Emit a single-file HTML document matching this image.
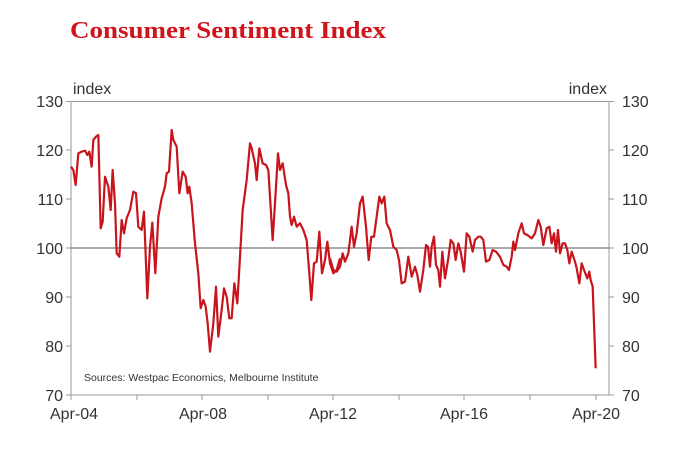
<!DOCTYPE html>
<html><head><meta charset="utf-8"><style>
html,body{margin:0;padding:0;background:#fff;}
svg{display:block;}
</style></head><body>
<svg width="674" height="450" viewBox="0 0 674 450" xmlns="http://www.w3.org/2000/svg">
<rect width="674" height="450" fill="#fff"/>
<text x="70" y="38" font-family="Liberation Serif, serif" font-weight="bold" font-size="24" fill="#d0141c" textLength="316" lengthAdjust="spacingAndGlyphs">Consumer Sentiment Index</text>
<g stroke="#999" stroke-width="1" fill="none">
<rect x="71" y="101.5" width="538" height="293.5"/>
</g>
<line x1="71" y1="248" x2="609" y2="248" stroke="#555" stroke-width="1"/>
<g stroke="#999" stroke-width="1">
<line x1="66" y1="101.5" x2="71" y2="101.5"/><line x1="66" y1="150" x2="71" y2="150"/><line x1="66" y1="199" x2="71" y2="199"/><line x1="66" y1="248" x2="71" y2="248"/><line x1="66" y1="297" x2="71" y2="297"/><line x1="66" y1="346" x2="71" y2="346"/><line x1="66" y1="395" x2="71" y2="395"/>
<line x1="609" y1="101.5" x2="614" y2="101.5"/><line x1="609" y1="150" x2="614" y2="150"/><line x1="609" y1="199" x2="614" y2="199"/><line x1="609" y1="248" x2="614" y2="248"/><line x1="609" y1="297" x2="614" y2="297"/><line x1="609" y1="346" x2="614" y2="346"/><line x1="609" y1="395" x2="614" y2="395"/>
<line x1="71" y1="395" x2="71" y2="400"/><line x1="137" y1="395" x2="137" y2="400"/><line x1="202" y1="395" x2="202" y2="400"/><line x1="268" y1="395" x2="268" y2="400"/><line x1="333" y1="395" x2="333" y2="400"/><line x1="399" y1="395" x2="399" y2="400"/><line x1="464" y1="395" x2="464" y2="400"/><line x1="530" y1="395" x2="530" y2="400"/><line x1="596" y1="395" x2="596" y2="400"/>
</g>
<g font-family="Liberation Sans, sans-serif" font-size="16" fill="#333">
<g text-anchor="end">
<text x="63" y="107">130</text><text x="63" y="156">120</text><text x="63" y="205">110</text><text x="63" y="254">100</text><text x="63" y="303">90</text><text x="63" y="352">80</text><text x="63" y="401">70</text>
<text x="607" y="94">index</text>
</g>
<text x="622" y="107">130</text><text x="622" y="156">120</text><text x="622" y="205">110</text><text x="622" y="254">100</text><text x="622" y="303">90</text><text x="622" y="352">80</text><text x="622" y="401">70</text>
<text x="73" y="94">index</text>
<g text-anchor="middle">
<text x="74" y="419">Apr-04</text><text x="203" y="419">Apr-08</text><text x="333" y="419">Apr-12</text><text x="464" y="419">Apr-16</text><text x="596" y="419">Apr-20</text>
</g>
</g>
<text x="84" y="381" font-family="Liberation Sans, sans-serif" font-size="10.5" fill="#333">Sources: Westpac Economics, Melbourne Institute</text>
<g fill="none" stroke="#c8141c" stroke-width="2.2" stroke-linejoin="round">
<polyline vector-effect="non-scaling-stroke" transform="translate(40,70) scale(0.33333)" points="93,290 100,300 107,345 115,250 125,245 135,242 142,255 148,245 155,290 160,210 168,200 175,195 182,475 188,455 195,320 205,350 212,420 218,300 225,400 230,550 238,560 245,450 252,490 260,445 270,420 280,365 288,370 295,470 305,480 312,425 322,685 330,530 337,458 346,610 355,440 365,385 375,350 380,310 387,305 395,180 400,210 410,230 418,370 428,305 437,320 443,370 448,350 455,400 465,520 475,610 482,715 490,690 497,710 503,760 510,845 520,760 528,650 535,800 545,720 552,655 560,680 568,745 575,745 583,640 592,700 600,560 608,420 620,330 630,220 635,235 645,280 650,330 658,235 668,280 678,285 685,300 690,380 698,510 705,400 714,250 720,300 728,280 738,345 745,370 750,440 755,465 762,440 770,470 780,460 790,480 800,510 808,610 814,690 822,580 830,575 838,485 846,610 855,570 862,515 870,580 880,610 890,600 900,565"/>
<polyline vector-effect="non-scaling-stroke" transform="translate(330,70) scale(0.33333)" points="0,565 10,600 20,605 30,590 38,550 45,575 55,550 65,470 72,530 80,490 90,400 98,380 108,470 116,570 124,500 132,500 140,440 148,380 155,400 163,380 170,460 180,480 190,530 200,540 207,570 215,640 225,635 235,560 245,620 255,590 262,615 270,665 280,600 288,525 294,530 300,590 305,530 312,500 318,585 325,600 330,650 337,545 345,625 355,565 362,510 370,520 377,570 385,520 392,545 402,605 410,490 418,500 428,545 435,510 445,500 452,500 460,510 468,575 478,570 488,540 498,545 510,560 520,585 530,590 537,600 545,560 550,515 555,540 565,490 575,460 582,490 592,495 605,505 615,490 625,450 632,470 640,525 650,475 658,470 665,520 672,490 678,545 684,480 690,550 698,520 705,520 712,540 718,580 725,545 735,575 740,595 748,640 755,580 762,600 772,625 778,605 782,630 788,650 797,895"/>
</g>
</svg>
</body></html>
